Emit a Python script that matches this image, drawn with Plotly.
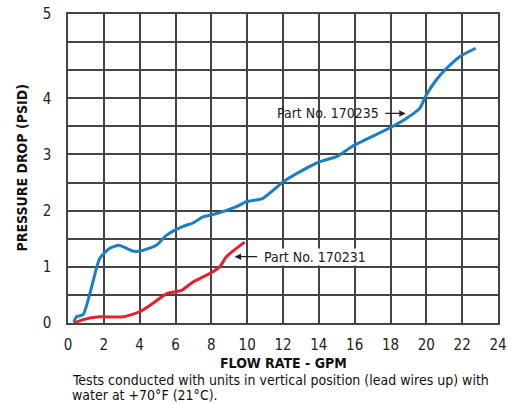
import plotly.graph_objects as go

# Data (y in linear PSID units; the top gridline is labelled "5")
flow_170235 = [0.32, 0.47, 0.84, 1.3, 1.77, 2.33, 2.85, 3.26, 3.63, 4.0, 4.93, 5.49, 6.42, 6.98, 7.53,
               8.09, 9.4, 9.96, 10.88, 12.0, 12.93, 14.05, 14.98, 15.9, 17.95, 18.88, 19.63, 20.0,
               20.56, 21.12, 21.86, 22.75]
psid_170235 = [0.02, 0.11, 0.15, 0.62, 1.15, 1.33, 1.385, 1.33, 1.28, 1.28, 1.385, 1.56, 1.72, 1.78, 1.89,
               1.93, 2.07, 2.16, 2.22, 2.51, 2.69, 2.87, 2.96, 3.15, 3.47, 3.64, 3.82, 4.06,
               4.33, 4.53, 4.74, 4.89]

flow_170231 = [0.32, 0.84, 1.77, 3.07, 4.0, 4.74, 5.49, 6.33, 6.98, 7.91, 8.47, 8.84, 9.86]
psid_170231 = [0.0, 0.06, 0.11, 0.11, 0.2, 0.35, 0.52, 0.58, 0.73, 0.88, 1.0, 1.18, 1.44]

x_ticks = [0, 2, 4, 6, 8, 10, 12, 14, 16, 18, 20, 22, 24]
y_tickvals = [0, 1, 2, 3, 4, 5.5]
y_ticktext = ["0", "1", "2", "3", "4", "5"]

caption_lines = ["Tests conducted with units in vertical position (lead wires up) with",
                 "water at +70°F (21°C)."]

FONT = "DejaVu Sans Condensed, Liberation Sans Narrow, Arial Narrow, Liberation Sans, sans-serif"
GRID = "#444444"

fig = go.Figure()
fig.add_trace(go.Scatter(x=flow_170235, y=psid_170235, mode="lines",
                         line=dict(color="#1a7dc6", width=3, shape="spline", smoothing=0.6),
                         name="Part No. 170235", showlegend=False))
fig.add_trace(go.Scatter(x=flow_170231, y=psid_170231, mode="lines",
                         line=dict(color="#e8202c", width=3, shape="spline", smoothing=0.6),
                         name="Part No. 170231", showlegend=False))

fig.add_annotation(x=18.85, y=3.73, ax=-22, ay=0, axref="pixel", ayref="pixel",
                   xref="x", yref="y", showarrow=True, arrowhead=2, arrowsize=1, arrowwidth=1.3,
                   arrowcolor="#222", text="")
fig.add_annotation(x=17.45, y=3.73, xref="x", yref="y", showarrow=False, xanchor="right",
                   text="Part No. 170235", font=dict(family=FONT, size=14, color="#222"))
fig.add_annotation(x=9.3, y=1.18, ax=24, ay=0, axref="pixel", ayref="pixel",
                   xref="x", yref="y", showarrow=True, arrowhead=2, arrowsize=1, arrowwidth=1.3,
                   arrowcolor="#222", text="")
fig.add_annotation(x=10.9, y=1.18, xref="x", yref="y", showarrow=False, xanchor="left",
                   text="Part No. 170231", font=dict(family=FONT, size=14, color="#222"),
                   bgcolor="white", borderpad=0)

fig.add_annotation(x=0, y=0.5, xref="paper", yref="paper", xshift=-47, showarrow=False, textangle=-90,
                   xanchor="center", yanchor="middle",
                   text="<b>PRESSURE DROP (PSID)</b>", font=dict(family=FONT, size=14, color="#111"))
fig.add_annotation(x=0.5, y=0, xref="paper", yref="paper", yshift=-40, showarrow=False,
                   yanchor="middle",
                   text="<b>FLOW RATE - GPM</b>", font=dict(family=FONT, size=14, color="#111"))
for i, line in enumerate(caption_lines):
    fig.add_annotation(x=0, y=0, xref="paper", yref="paper", yshift=-57 - 15 * i, xshift=2,
                       showarrow=False, xanchor="left", yanchor="middle", align="left",
                       text=line, font=dict(family=FONT, size=14, color="#111"))

fig.update_xaxes(range=[0, 24], tickvals=x_ticks, showgrid=True, gridcolor=GRID, gridwidth=1.5,
                 showline=True, linecolor=GRID, linewidth=1.5, mirror=True, zeroline=False,
                 ticks="outside", ticklen=7, tickcolor="rgba(0,0,0,0)", automargin=False,
                 tickfont=dict(family=FONT, size=15, color="#222"))
fig.update_yaxes(range=[0, 5.5], tickvals=y_tickvals, ticktext=y_ticktext, showgrid=True,
                 gridcolor=GRID, gridwidth=1.5,
                 minor=dict(tick0=0, dtick=0.5, showgrid=True, gridcolor=GRID, gridwidth=1.5),
                 showline=True, linecolor=GRID, linewidth=1.5, mirror=True, zeroline=False,
                 ticks="outside", ticklen=12, tickcolor="rgba(0,0,0,0)", automargin=False,
                 tickfont=dict(family=FONT, size=15, color="#222"))

fig.update_layout(width=515, height=404, margin=dict(l=68, r=17, t=14, b=81, autoexpand=False),
                  plot_bgcolor="white", paper_bgcolor="white", showlegend=False)

fig.write_html("out.html", config={"displayModeBar": False, "responsive": False},
               post_script="document.body.style.margin='0';document.body.style.overflow='hidden';")
